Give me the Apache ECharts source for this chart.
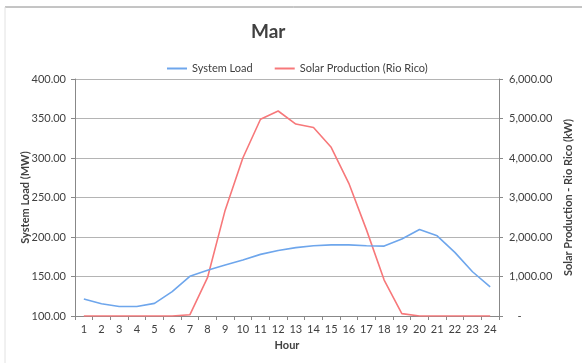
<!DOCTYPE html>
<html>
<head>
<meta charset="utf-8">
<script src="https://cdn.jsdelivr.net/npm/echarts@6/dist/echarts.min.js"></script>
<style>
  html, body { margin: 0; padding: 0; background: #fff; }
  #chart { width: 582px; height: 363px; }
</style>
</head>
<body>
<div id="chart"></div>
<script>
// Hourly profile for March: system load vs. Rio Rico solar output
const hours = ['1','2','3','4','5','6','7','8','9','10','11','12','13','14','15','16','17','18','19','20','21','22','23','24'];
const systemLoad = [121.5, 115.6, 112, 112, 116, 130.8, 150.2, 158, 164.5, 171, 178, 183, 186.5, 189, 190, 190, 189, 188.5, 197.5, 209.5, 201.5, 180.5, 156, 137];
const solarProduction = [0, 0, 0, 0, 0, 0, 30, 970, 2680, 4000, 4980, 5190, 4860, 4770, 4270, 3360, 2180, 910, 60, 0, 0, 0, 0, 0];

const font = 'Lato, "Open Sans", sans-serif';
const textColor = '#404040';

const chart = echarts.init(document.getElementById('chart'));
chart.setOption({
  animation: false,
  backgroundColor: '#fff',
  textStyle: { fontFamily: font },
  // chart-area frame: top edge and faint left edge
  graphic: [
    { type: 'line', shape: { x1: 5, y1: 7, x2: 582, y2: 7 }, style: { stroke: '#8a8a8a', lineWidth: 1 }, silent: true },
    { type: 'line', shape: { x1: 5, y1: 7, x2: 5, y2: 363 }, style: { stroke: '#e2e2e2', lineWidth: 1 }, silent: true }
  ],
  title: {
    text: 'Mar',
    left: 246, top: 17,
    textStyle: { fontFamily: font, fontSize: 19, fontWeight: 'bold', color: textColor }
  },
  legend: {
    left: 162, top: 58,
    itemWidth: 20, itemHeight: 2, itemGap: 22,
    icon: 'rect',
    textStyle: { fontFamily: font, fontSize: 11, color: textColor },
    data: ['System Load', 'Solar Production (Rio Rico)']
  },
  grid: { left: 75, right: 80, top: 79, bottom: 47 },
  xAxis: {
    type: 'category',
    data: hours,
    boundaryGap: true,
    name: 'Hour',
    nameLocation: 'middle',
    nameGap: 24,
    nameTextStyle: { fontFamily: font, fontSize: 11, fontWeight: 'bold', color: textColor },
    axisLine: { lineStyle: { color: '#888', width: 1 } },
    axisTick: { show: true, length: 4, lineStyle: { color: '#888' } },
    axisLabel: { fontFamily: font, fontSize: 11, color: textColor, margin: 8 }
  },
  yAxis: [
    {
      type: 'value',
      min: 100, max: 400, interval: 50,
      name: 'System Load (MW)',
      nameLocation: 'middle',
      nameGap: 44,
      nameMoveOverlap: false,
      nameRotate: 90,
      nameTextStyle: { fontFamily: font, fontSize: 11, fontWeight: 'bold', color: textColor },
      axisLine: { show: true, lineStyle: { color: '#888', width: 1 } },
      axisTick: { show: true, length: 4, lineStyle: { color: '#888' } },
      axisLabel: {
        fontFamily: font, fontSize: 11, color: textColor, margin: 9,
        formatter: v => v.toFixed(2)
      },
      splitLine: { show: true, lineStyle: { color: '#b4b4b4', width: 1 } }
    },
    {
      type: 'value',
      min: 0, max: 6000, interval: 1000,
      name: 'Solar Production - Rio Rico (kW)',
      nameLocation: 'middle',
      nameGap: 64,
      nameMoveOverlap: false,
      nameRotate: 90,
      nameTextStyle: { fontFamily: font, fontSize: 11, fontWeight: 'bold', color: textColor },
      axisLine: { show: true, lineStyle: { color: '#888', width: 1 } },
      axisTick: { show: true, length: 4, lineStyle: { color: '#888' } },
      axisLabel: {
        fontFamily: font, fontSize: 11, color: textColor, margin: 10,
        formatter: v => v === 0 ? '   -' : v.toLocaleString('en-US', { minimumFractionDigits: 2, maximumFractionDigits: 2 })
      },
      splitLine: { show: false }
    }
  ],
  series: [
    {
      name: 'System Load',
      type: 'line',
      yAxisIndex: 0,
      data: systemLoad,
      showSymbol: false,
      symbol: 'none',
      lineStyle: { color: '#6ea6ec', width: 1.6 },
      itemStyle: { color: '#6ea6ec' },
      z: 3
    },
    {
      name: 'Solar Production (Rio Rico)',
      type: 'line',
      yAxisIndex: 1,
      data: solarProduction,
      showSymbol: false,
      symbol: 'none',
      lineStyle: { color: '#f7787a', width: 1.6 },
      itemStyle: { color: '#f7787a' },
      z: 2
    }
  ]
});
</script>
</body>
</html>
